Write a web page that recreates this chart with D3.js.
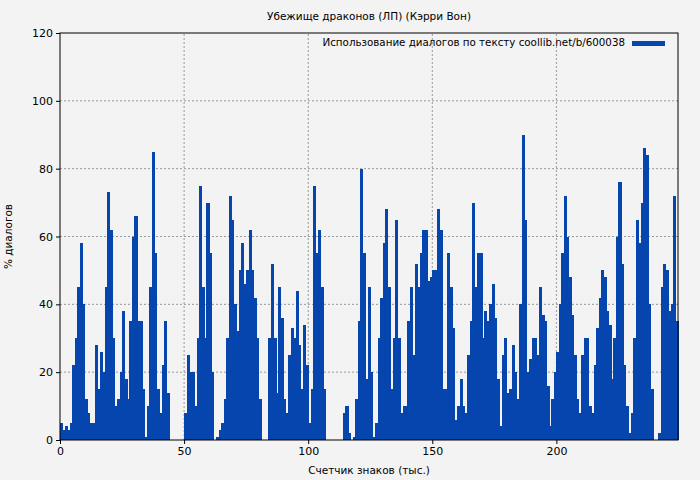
<!DOCTYPE html>
<html>
<head>
<meta charset="utf-8">
<script src="https://cdn.jsdelivr.net/npm/d3@7"></script>
<style>
  body { margin: 0; background: #f3f3f3; }
  text { font-family: "DejaVu Sans", sans-serif; fill: #000; }
</style>
</head>
<body>
<svg id="viewport" width="700" height="480"></svg>
<script>
// share of dialogue per thousand characters, one value per 1k
const values = [
  5, 3, 4, 3, 5, 22, 30, 45, 58, 40, 12, 8, 5, 5, 28, 15, 26, 20, 45, 73,
  62, 30, 10, 12, 20, 38, 18, 12, 35, 60, 66, 35, 35, 15, 1, 10, 45, 85, 55, 15,
  8, 22, 35, 14, 0, 0, 0, 0, 0, 0, 8, 25, 20, 20, 10, 30, 75, 45, 30, 70,
  55, 20, 0, 1, 3, 5, 12, 30, 72, 65, 40, 32, 50, 58, 46, 50, 62, 50, 42, 30,
  12, 0, 0, 0, 30, 52, 30, 14, 45, 36, 12, 8, 25, 33, 30, 44, 28, 15, 34, 22,
  5, 15, 75, 55, 62, 45, 15, 0, 0, 0, 0, 0, 0, 0, 8, 10, 2, 0, 1, 12,
  35, 80, 55, 18, 45, 20, 1, 5, 30, 42, 58, 68, 45, 15, 30, 65, 30, 8, 10, 10,
  35, 45, 25, 52, 45, 55, 62, 62, 47, 48, 50, 50, 68, 62, 15, 15, 55, 45, 33, 6,
  10, 18, 10, 8, 25, 35, 70, 45, 55, 55, 30, 38, 35, 40, 46, 36, 18, 4, 25, 30,
  14, 15, 28, 20, 12, 40, 90, 65, 20, 24, 30, 30, 25, 45, 37, 35, 16, 4, 12, 20,
  26, 40, 55, 72, 60, 48, 37, 25, 12, 8, 25, 30, 30, 10, 8, 22, 33, 42, 50, 48,
  38, 34, 18, 30, 60, 76, 52, 22, 10, 2, 8, 30, 65, 58, 70, 86, 84, 40, 15, 0,
  0, 2, 45, 52, 50, 38, 40, 72, 35
];
const xTicks = [0, 50, 100, 150, 200];
const yTicks = [0, 20, 40, 60, 80, 100, 120];
const title = 'Убежище драконов (ЛП) (Кэрри Вон)';
const legendLabel = 'Использование диалогов по тексту coollib.net/b/600038';

const margin = { left: 60, top: 33, right: 22, bottom: 40 };
const width = 700, height = 480;
const colour = '#0645ad';

const svg = d3.select('#viewport');
const x = d3.scaleLinear().domain([0, 249]).range([margin.left, width - margin.right]);
const y = d3.scaleLinear().domain([0, 120]).range([height - margin.bottom, margin.top]);

// grid
svg.append('g')
  .selectAll('line.v')
  .data(xTicks.slice(1))
  .join('line')
  .attr('x1', (d) => x(d)).attr('x2', (d) => x(d))
  .attr('y1', y(0)).attr('y2', y(120))
  .attr('stroke', '#999').attr('stroke-dasharray', '2,2');
svg.append('g')
  .selectAll('line.h')
  .data(yTicks.slice(1, -1))
  .join('line')
  .attr('x1', x(0)).attr('x2', x(249))
  .attr('y1', (d) => y(d)).attr('y2', (d) => y(d))
  .attr('stroke', '#999').attr('stroke-dasharray', '2,2');

// bars
svg.append('g')
  .attr('shape-rendering', 'crispEdges')
  .selectAll('rect')
  .data(values)
  .join('rect')
  .attr('x', (d, i) => x(i))
  .attr('width', (d, i) => x(i + 1) - x(i) + 0.6)
  .attr('y', (d) => y(d))
  .attr('height', (d) => y(0) - y(d))
  .attr('fill', colour);

// frame
svg.append('rect')
  .attr('x', x(0)).attr('y', y(120))
  .attr('width', x(249) - x(0)).attr('height', y(0) - y(120))
  .attr('fill', 'none').attr('stroke', '#000');

// axes
const xAxis = svg.append('g')
  .attr('transform', `translate(0,${y(0)})`)
  .call(d3.axisBottom(x).tickValues(xTicks).tickSize(4).tickSizeOuter(0));
const yAxis = svg.append('g')
  .attr('transform', `translate(${x(0)},0)`)
  .call(d3.axisLeft(y).tickValues(yTicks).tickSize(4).tickSizeOuter(0));
[xAxis, yAxis].forEach((a) => {
  a.select('.domain').remove();
  a.selectAll('text').style('font-size', '11px').style('font-family', '"DejaVu Sans", sans-serif');
});

// texts
svg.append('text')
  .attr('x', 369).attr('y', 20)
  .attr('text-anchor', 'middle')
  .style('font-size', '10.5px')
  .text(title);
svg.append('text')
  .attr('x', 369).attr('y', 474)
  .attr('text-anchor', 'middle')
  .style('font-size', '10.5px')
  .text('Счетчик знаков (тыс.)');
svg.append('text')
  .attr('transform', `translate(12,${(y(0) + y(120)) / 2}) rotate(-90)`)
  .attr('text-anchor', 'middle')
  .style('font-size', '10.5px')
  .text('% диалогов');

// legend
svg.append('text')
  .attr('x', 625).attr('y', 46)
  .attr('text-anchor', 'end')
  .style('font-size', '10.3px')
  .text(legendLabel);
svg.append('rect')
  .attr('x', 632).attr('y', 41)
  .attr('width', 33).attr('height', 5)
  .attr('fill', colour);
</script>
</body>
</html>
